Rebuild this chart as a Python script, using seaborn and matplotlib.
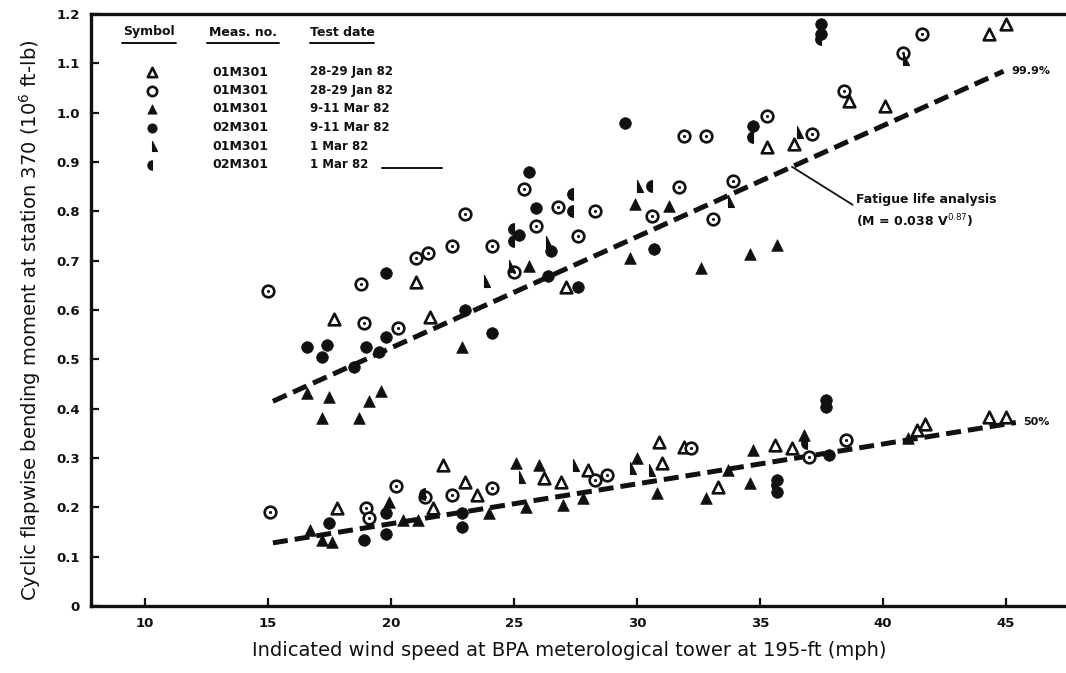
import numpy as np
import matplotlib
matplotlib.use("Agg")
import matplotlib.pyplot as plt
from matplotlib.markers import MarkerStyle
import seaborn as sns

# Wind speed (mph) and cyclic flapwise moment (10^6 ft-lb) for each symbol set
tri_open_x = [17.7, 21.0, 21.6, 27.1, 35.3, 36.4, 38.6, 40.1, 44.3, 45.0,
              17.8, 21.7, 22.1, 23.0, 23.5, 26.2, 26.9, 28.0, 30.9, 31.0,
              31.9, 33.3, 35.6, 36.3, 41.4, 41.7, 44.3, 45.0]
tri_open_y = [0.581, 0.656, 0.585, 0.646, 0.930, 0.937, 1.023, 1.013, 1.159, 1.180,
              0.199, 0.199, 0.286, 0.252, 0.225, 0.260, 0.252, 0.276, 0.333, 0.290,
              0.323, 0.242, 0.327, 0.321, 0.357, 0.368, 0.384, 0.384]

circ_open_x = [15.0, 18.8, 18.9, 20.3, 21.0, 21.5, 22.5, 23.0, 24.1, 25.0,
               25.4, 25.9, 26.8, 27.6, 28.3, 30.6, 31.7, 31.9, 32.8, 33.1,
               33.9, 35.3, 37.1, 38.4, 40.8, 41.6,
               15.1, 19.0, 19.1, 20.2, 21.4, 22.5, 24.1, 28.3, 28.8, 32.2,
               37.0, 38.5]
circ_open_y = [0.638, 0.652, 0.574, 0.564, 0.705, 0.715, 0.729, 0.794, 0.729, 0.678,
               0.845, 0.770, 0.808, 0.749, 0.800, 0.790, 0.849, 0.952, 0.952, 0.784,
               0.861, 0.993, 0.956, 1.044, 1.120, 1.159,
               0.191, 0.199, 0.179, 0.244, 0.221, 0.225, 0.240, 0.256, 0.266, 0.321,
               0.303, 0.337]

tri_fill_x = [16.6, 17.5, 17.2, 18.7, 19.1, 19.6, 22.9, 25.6, 29.7, 29.9,
              31.3, 32.6, 34.6, 35.7,
              16.7, 17.2, 17.6, 19.9, 20.5, 21.1, 24.0, 25.1, 25.5, 26.0,
              27.0, 27.8, 30.0, 30.8, 32.8, 33.7, 34.6, 34.7, 36.8, 41.0]
tri_fill_y = [0.432, 0.424, 0.382, 0.382, 0.415, 0.435, 0.524, 0.689, 0.705, 0.814,
              0.810, 0.686, 0.713, 0.731,
              0.154, 0.134, 0.130, 0.211, 0.175, 0.175, 0.189, 0.290, 0.201, 0.286,
              0.205, 0.219, 0.300, 0.229, 0.219, 0.276, 0.250, 0.317, 0.347, 0.341]

circ_fill_x = [16.6, 17.4, 17.2, 18.5, 19.0, 19.8, 19.5, 19.8, 23.0, 24.1,
               25.2, 25.6, 25.9, 26.4, 26.5, 27.6, 29.5, 30.7, 34.7, 37.5, 37.5,
               17.5, 18.9, 19.8, 19.8, 22.9, 22.9, 35.7, 35.7, 37.7, 37.7, 37.8]
circ_fill_y = [0.524, 0.530, 0.504, 0.485, 0.524, 0.546, 0.514, 0.676, 0.601, 0.554,
               0.753, 0.879, 0.806, 0.668, 0.719, 0.646, 0.980, 0.723, 0.973, 1.180, 1.160,
               0.169, 0.134, 0.189, 0.146, 0.189, 0.160, 0.232, 0.255, 0.404, 0.418, 0.307]

tri_half_x = [23.8, 24.8, 26.3, 30.0, 33.7, 36.5, 40.8, 25.2, 27.4, 29.7, 30.5]
tri_half_y = [0.658, 0.689, 0.737, 0.851, 0.820, 0.960, 1.109, 0.262, 0.286, 0.280, 0.276]

circ_half_x = [25.0, 25.0, 27.4, 27.4, 30.6, 34.7, 37.5, 21.4, 36.9, 35.7]
circ_half_y = [0.740, 0.765, 0.800, 0.835, 0.851, 0.950, 1.150, 0.228, 0.331, 0.245]

# Envelope curves (99.9% and 50%)
upper_x = [15.2, 44.9]
upper_y = [0.415, 1.084]
lower_x = [15.2, 45.4]
lower_y = [0.128, 0.372]

x_ticks = [10, 15, 20, 25, 30, 35, 40, 45]
y_ticks = [0, 0.1, 0.2, 0.3, 0.4, 0.5, 0.6, 0.7, 0.8, 0.9, 1.0, 1.1, 1.2]
y_tick_labels = ["0", "0.1", "0.2", "0.3", "0.4", "0.5", "0.6", "0.7", "0.8",
                 "0.9", "1.0", "1.1", "1.2"]

legend_rows = [
    ("tri_open", "01M301", "28-29 Jan 82"),
    ("circ_open", "01M301", "28-29 Jan 82"),
    ("tri_fill", "01M301", "9-11 Mar 82"),
    ("circ_fill", "02M301", "9-11 Mar 82"),
    ("tri_half", "01M301", "1 Mar 82"),
    ("circ_half", "02M301", "1 Mar 82"),
]

sns.set_style("ticks")
plt.rcParams["font.family"] = ["DejaVu Sans"]

fig = plt.figure(figsize=(10.66, 6.73), dpi=100)
ax = fig.add_axes([91 / 1066, 67 / 673, 975 / 1066, 592 / 673])

ink = "#111111"
S = 70

marker_styles = {
    "tri_open": dict(marker="^", color="white", edgecolor=ink, linewidth=1.9),
    "circ_open": dict(marker="o", color="white", edgecolor=ink, linewidth=1.9),
    "tri_fill": dict(marker="^", color=ink, edgecolor=ink, linewidth=0.5),
    "circ_fill": dict(marker="o", color=ink, edgecolor=ink, linewidth=0.5),
    "tri_half": dict(marker=MarkerStyle("^", fillstyle="right"), color=ink,
                     edgecolor=ink, linewidth=0.8),
    "circ_half": dict(marker=MarkerStyle("o", fillstyle="left"), color=ink,
                      edgecolor=ink, linewidth=0.8),
}

series = {
    "tri_open": (tri_open_x, tri_open_y),
    "circ_open": (circ_open_x, circ_open_y),
    "tri_fill": (tri_fill_x, tri_fill_y),
    "circ_fill": (circ_fill_x, circ_fill_y),
    "tri_half": (tri_half_x, tri_half_y),
    "circ_half": (circ_half_x, circ_half_y),
}

# Dashed envelope lines
dash = (0, (3.0, 1.4))
sns.lineplot(x=upper_x, y=upper_y, ax=ax, color=ink, lw=3.6, linestyle=dash)
sns.lineplot(x=lower_x, y=lower_y, ax=ax, color=ink, lw=3.6, linestyle=dash)

for key, (xs, ys) in series.items():
    sns.scatterplot(x=xs, y=ys, ax=ax, s=S, zorder=3, **marker_styles[key])
# centre dots of the open circles
sns.scatterplot(x=circ_open_x, y=circ_open_y, ax=ax, s=5, color=ink,
                edgecolor=ink, linewidth=0, zorder=4)

ax.set_xlim(7.805, 47.44)
ax.set_ylim(0, 1.2)
ax.set_xticks(x_ticks)
ax.set_xticklabels([str(t) for t in x_ticks])
ax.set_yticks(y_ticks)
ax.set_yticklabels(y_tick_labels)
ax.tick_params(direction="in", length=6, width=1.6, colors=ink,
               labelsize=9.5, pad=8)
for lab in ax.get_xticklabels() + ax.get_yticklabels():
    lab.set_fontweight("bold")

for side in ("left", "bottom", "top"):
    ax.spines[side].set_linewidth(2.4)
    ax.spines[side].set_color(ink)
ax.spines["right"].set_visible(False)

ax.set_xlabel("Indicated wind speed at BPA meterological tower at 195-ft (mph)",
              fontsize=14, color=ink, va="center")
ax.xaxis.set_label_coords(0.49, -0.076)
ax.set_ylabel("Cyclic flapwise bending moment at station 370 (10$^{6}$ ft-lb)",
              fontsize=14, color=ink, va="center")
ax.yaxis.set_label_coords(-0.063, 0.483)

# Line labels
ax.text(upper_x[-1] + 0.3, upper_y[-1], "99.9%", fontsize=8, fontweight="bold",
        va="center", ha="left", color=ink)
ax.text(lower_x[-1] + 0.3, lower_y[-1], "50%", fontsize=8, fontweight="bold",
        va="center", ha="left", color=ink)

# Fatigue life annotation pointing at the upper curve
tip_x = 36.3
tip_y = float(np.interp(tip_x, upper_x, upper_y))
ax.annotate("Fatigue life analysis\n(M = 0.038 V$^{0.87}$)",
            xy=(tip_x, tip_y), xytext=(38.9, 0.80),
            fontsize=9, fontweight="bold", color=ink, ha="left", va="center",
            linespacing=1.5,
            arrowprops=dict(arrowstyle="-", color=ink, lw=1.3,
                            shrinkA=0, shrinkB=0, relpos=(0, 0.62)))

# Symbol table in the upper-left corner
def ax_x(px):
    return (px - 91) / 975


def ax_y(py):
    return (606 - py) / 592


hdr_y = ax_y(32)
for label, cx in (("Symbol", 149), ("Meas. no.", 243), ("Test date", 342)):
    ax.text(ax_x(cx), hdr_y, label, transform=ax.transAxes, fontsize=9,
            fontweight="bold", ha="center", va="center", color=ink)
for x0, x1 in ((122, 176), (207, 279), (310, 374)):
    ax.plot([ax_x(x0), ax_x(x1)], [ax_y(43), ax_y(43)], transform=ax.transAxes,
            color=ink, lw=1.4, clip_on=False)

row_px = [72, 90.5, 109, 127.5, 146, 164.5]
for (key, meas, date), py in zip(legend_rows, row_px):
    ry = ax_y(py)
    st = dict(marker_styles[key])
    ax.scatter([ax_x(152)], [ry], transform=ax.transAxes, s=45, clip_on=False,
               zorder=5, c=[st.pop("color")], **st)
    ax.text(ax_x(240), ry, meas, transform=ax.transAxes, fontsize=9,
            fontweight="bold", ha="center", va="center", color=ink)
    ax.text(ax_x(310), ry, date, transform=ax.transAxes, fontsize=8.5,
            fontweight="bold", ha="left", va="center", color=ink)
ax.plot([ax_x(382), ax_x(442)], [ax_y(row_px[-1] + 3)] * 2, transform=ax.transAxes,
        color=ink, lw=1.4, clip_on=False)

ax.set_xlim(7.805, 47.44)
ax.set_ylim(0, 1.2)

fig.savefig("out.png", dpi=100, facecolor="white")
